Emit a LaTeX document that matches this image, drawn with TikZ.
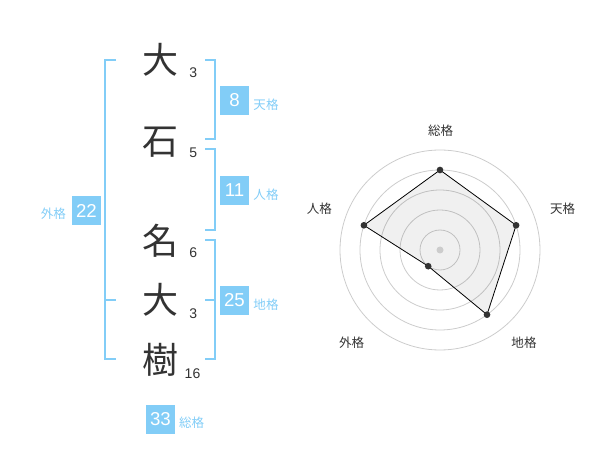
\documentclass[tikz,border=0pt]{standalone}
\usepackage{fontspec}
\setmainfont{Liberation Sans}
\newfontfamily\cjk{Noto Sans CJK JP}
\definecolor{sky}{HTML}{82CDF7}
\definecolor{ink}{HTML}{333333}
\definecolor{ring}{HTML}{CCCCCC}
\begin{document}
\begin{tikzpicture}[x=0.75pt,y=-0.75pt,
  bigchar/.style={font=\cjk\fontsize{27}{27}\selectfont, text=ink, inner sep=0pt, anchor=center},
  strokes/.style={font=\fontsize{10.5}{10.5}\selectfont, text=ink, inner sep=0pt},
  valbox/.style={fill=sky, text=white, minimum width=21.75pt, minimum height=21.75pt, inner sep=0pt, font=\fontsize{14}{14}\selectfont},
  kaku/.style={font=\cjk\fontsize{9.4}{9.4}\selectfont, text=sky, inner sep=0pt},
  brk/.style={draw=sky, line width=1.5pt},
  axlabel/.style={font=\cjk\fontsize{9.4}{9.4}\selectfont, text=ink, inner sep=0pt},
  ringline/.style={draw=ring, line width=0.6pt},
  pt/.style={circle, fill=ink, inner sep=0pt, minimum size=5pt}]
\useasboundingbox (0,0) rectangle (600,470);

% characters
\node[bigchar] (c1) at (160,59.5) {大};
\node[bigchar] (c2) at (160,141.7) {石};
\node[bigchar] (c3) at (160,240.8) {名};
\node[bigchar] (c4) at (160,299.7) {大};
\node[bigchar] (c5) at (160,360) {樹};

\node[strokes] (s1) at (193.3,73) {3};
\node[strokes] (s2) at (193.3,152.5) {5};
\node[strokes] (s3) at (193.3,252.5) {6};
\node[strokes] (s4) at (193.3,313.3) {3};
\node[strokes] (s5) at (192.5,373.3) {16};

% brackets
\coordinate (lt) at (116,60);
\coordinate (lb) at (116,359);
\coordinate (lm) at (116,300);
\draw[brk] (lt) -- (105,60) -- (105,359) -- (lb);
\draw[brk] (105,300) -- (lm);

\coordinate (tt) at (205,60);
\coordinate (tb) at (205,139.3);
\draw[brk] (tt) -- (214.7,60) -- (214.7,139.3) -- (tb);

\coordinate (jt) at (205,149.3);
\coordinate (jb) at (205,230);
\draw[brk] (jt) -- (214.7,149.3) -- (214.7,230) -- (jb);

\coordinate (ct) at (205,240);
\coordinate (cb) at (205,359.3);
\coordinate (cm) at (205,300);
\draw[brk] (ct) -- (214.7,240) -- (214.7,359.3) -- (cb);
\draw[brk] (214.7,300) -- (cm);

% value boxes
\node[valbox] (v8) at (234.5,100.5) {8};
\node[kaku] (k8) at (266,104.3) {天格};
\node[valbox] (v11) at (234.5,190.5) {11};
\node[kaku] (k11) at (266,195) {人格};
\node[valbox] (v25) at (234.5,300.5) {25};
\node[kaku] (k25) at (266,304.3) {地格};
\node[valbox] (v22) at (86.5,210.5) {22};
\node[kaku] (k22) at (53.3,213.3) {外格};
\node[valbox] (v33) at (160.5,419) {33};
\node[kaku] (k33) at (191.7,422.7) {総格};

% radar chart
\coordinate (C) at (440,250);
\foreach \r in {20,40,60,80,100} \draw[ringline] (C) circle[radius=\r];
\coordinate (pS) at (440,170);
\coordinate (pT) at (516.1,225.3);
\coordinate (pC) at (487.0,314.7);
\coordinate (pG) at (428.2,266.2);
\coordinate (pJ) at (363.9,225.3);
\fill[black, opacity=0.06] (pS) -- (pT) -- (pC) -- (pG) -- (pJ) -- cycle;
\draw[black, line width=0.6pt] (pS) -- (pT) -- (pC) -- (pG) -- (pJ) -- cycle;
\fill[ring] (C) circle[radius=3.5];
\foreach \p in {pS,pT,pC,pG,pJ} \node[pt] at (\p) {};

\node[axlabel] (aS) at (440.7,130.7) {総格};
\node[axlabel] (aT) at (562.7,208.3) {天格};
\node[axlabel] (aJ) at (319.3,208.3) {人格};
\node[axlabel] (aG) at (351.7,342.3) {外格};
\node[axlabel] (aC) at (524,342.3) {地格};
\end{tikzpicture}
\end{document}
